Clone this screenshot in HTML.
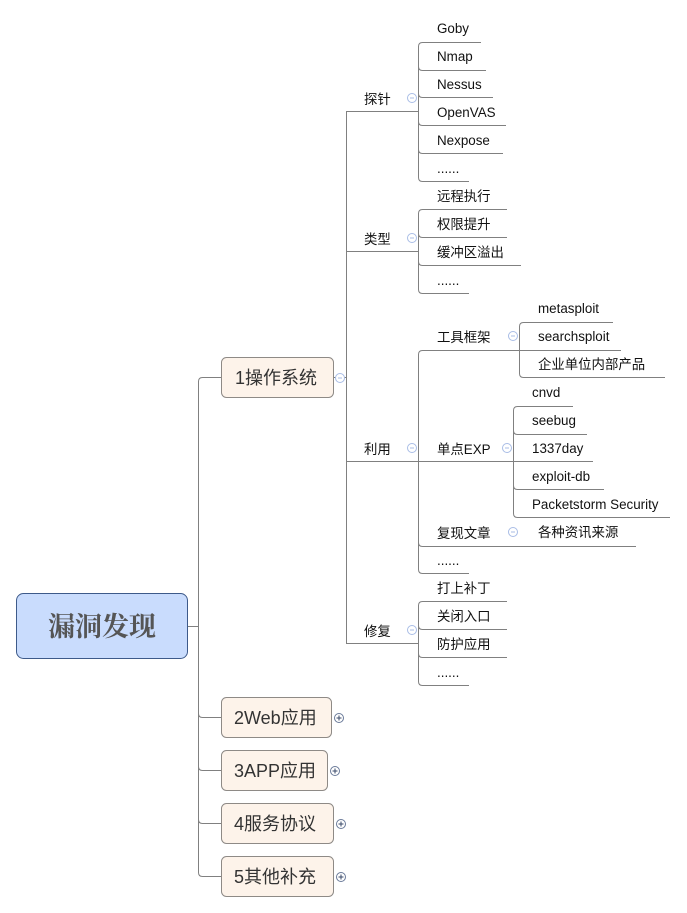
<!DOCTYPE html>
<html><head><meta charset="utf-8"><style>
html,body{margin:0;padding:0;background:#fff;}
svg{display:block;}
text{font-family:"Liberation Sans","Noto Sans CJK SC",sans-serif;font-size:13.4px;fill:#111;}
.t{font-size:18px;fill:#333;}
.r{font-family:"Liberation Serif","Noto Serif CJK SC",serif;font-size:27px;font-weight:bold;fill:#555;}
.l{fill:none;stroke:#808080;stroke-width:1;}
.c{fill:#fff;stroke:#a9bde6;stroke-width:1;}
.p{fill:#fff;stroke:#6a7a99;stroke-width:1;}
</style></head><body>
<svg width="687" height="913" viewBox="0 0 687 913" xmlns="http://www.w3.org/2000/svg">
<g class="l">
<path d="M187.5 626.5H198.5"/>
<path d="M221 377.5H202.5Q198.5 377.5 198.5 381.5V872.5Q198.5 876.5 202.5 876.5H221"/>
<path d="M198.5 713.5Q198.5 717.5 202.5 717.5H221"/>
<path d="M198.5 766.5Q198.5 770.5 202.5 770.5H221"/>
<path d="M198.5 819.5Q198.5 823.5 202.5 823.5H221"/>
<path d="M333 377.5H346.5"/>
<path d="M418.5 111.5H346.5V643.5H418.5"/>
<path d="M346.5 251.5H418.5"/>
<path d="M346.5 461.5H418.5"/>
<path d="M481 42.5H422.5Q418.5 42.5 418.5 46.5V177.5Q418.5 181.5 422.5 181.5H469"/>
<path d="M418.5 66.5Q418.5 70.5 422.5 70.5H486"/>
<path d="M418.5 93.5Q418.5 97.5 422.5 97.5H493"/>
<path d="M418.5 121.5Q418.5 125.5 422.5 125.5H506"/>
<path d="M418.5 149.5Q418.5 153.5 422.5 153.5H503"/>
<path d="M507 209.5H422.5Q418.5 209.5 418.5 213.5V289.5Q418.5 293.5 422.5 293.5H469"/>
<path d="M418.5 233.5Q418.5 237.5 422.5 237.5H507"/>
<path d="M418.5 261.5Q418.5 265.5 422.5 265.5H521"/>
<path d="M519.5 350.5H422.5Q418.5 350.5 418.5 354.5V569.5Q418.5 573.5 422.5 573.5H469"/>
<path d="M418.5 461.5H513.5"/>
<path d="M418.5 542.5Q418.5 546.5 422.5 546.5H636"/>
<path d="M613 322.5H523.5Q519.5 322.5 519.5 326.5V373.5Q519.5 377.5 523.5 377.5H665"/>
<path d="M519.5 350.5H621"/>
<path d="M573 406.5H517.5Q513.5 406.5 513.5 410.5V513.5Q513.5 517.5 517.5 517.5H670"/>
<path d="M513.5 430.5Q513.5 434.5 517.5 434.5H587"/>
<path d="M513.5 461.5H593"/>
<path d="M513.5 485.5Q513.5 489.5 517.5 489.5H604"/>
<path d="M507 601.5H422.5Q418.5 601.5 418.5 605.5V681.5Q418.5 685.5 422.5 685.5H469"/>
<path d="M418.5 625.5Q418.5 629.5 422.5 629.5H507"/>
<path d="M418.5 653.5Q418.5 657.5 422.5 657.5H507"/>
</g>
<rect x="16.5" y="593.5" width="171" height="65" rx="7" fill="#c9dcfd" stroke="#3d5a8a"/>
<text class="r" x="102" y="636" text-anchor="middle">漏洞发现</text>
<rect x="221.5" y="357.5" width="112" height="40" rx="5" fill="#fdf3ea" stroke="#8e8a86"/>
<text class="t" x="235" y="384">1操作系统</text>
<rect x="221.5" y="697.5" width="110" height="40" rx="5" fill="#fdf3ea" stroke="#8e8a86"/>
<text class="t" x="234" y="724">2Web应用</text>
<rect x="221.5" y="750.5" width="106" height="40" rx="5" fill="#fdf3ea" stroke="#8e8a86"/>
<text class="t" x="234" y="777">3APP应用</text>
<rect x="221.5" y="803.5" width="112" height="40" rx="5" fill="#fdf3ea" stroke="#8e8a86"/>
<text class="t" x="234" y="830">4服务协议</text>
<rect x="221.5" y="856.5" width="112" height="40" rx="5" fill="#fdf3ea" stroke="#8e8a86"/>
<text class="t" x="234" y="883">5其他补充</text>
<circle class="c" cx="340" cy="378" r="4.5"/>
<circle class="c" cx="412" cy="98" r="4.5"/>
<circle class="c" cx="412" cy="238" r="4.5"/>
<circle class="c" cx="412" cy="448" r="4.5"/>
<circle class="c" cx="412" cy="630" r="4.5"/>
<circle class="c" cx="513" cy="336" r="4.5"/>
<circle class="c" cx="507" cy="448" r="4.5"/>
<circle class="c" cx="513" cy="532" r="4.5"/>
<g stroke="#a9bde6" stroke-width="1">
<path d="M338 378h4M410 98h4M410 238h4M410 448h4M410 630h4M511 336h4M505 448h4M511 532h4"/>
</g>
<g>
<circle class="p" cx="339" cy="718" r="4.5"/><circle class="p" cx="335" cy="771" r="4.5"/>
<circle class="p" cx="341" cy="824" r="4.5"/><circle class="p" cx="341" cy="877" r="4.5"/>
<path stroke="#3a4a6a" fill="none" d="M336.5 718h5M339 715.5v5M332.5 771h5M335 768.5v5M338.5 824h5M341 821.5v5M338.5 877h5M341 874.5v5"/>
</g>
<text x="364" y="104">探针</text>
<text x="364" y="244">类型</text>
<text x="364" y="454">利用</text>
<text x="364" y="636">修复</text>
<text x="437" y="33">Goby</text>
<text x="437" y="61">Nmap</text>
<text x="437" y="89">Nessus</text>
<text x="437" y="117">OpenVAS</text>
<text x="437" y="145">Nexpose</text>
<text x="437" y="173">......</text>
<text x="437" y="201">远程执行</text>
<text x="437" y="229">权限提升</text>
<text x="437" y="257">缓冲区溢出</text>
<text x="437" y="285">......</text>
<text x="437" y="342">工具框架</text>
<text x="437" y="454">单点EXP</text>
<text x="437" y="538">复现文章</text>
<text x="437" y="565">......</text>
<text x="538" y="313">metasploit</text>
<text x="538" y="341">searchsploit</text>
<text x="538" y="369">企业单位内部产品</text>
<text x="532" y="397">cnvd</text>
<text x="532" y="425">seebug</text>
<text x="532" y="453">1337day</text>
<text x="532" y="481">exploit-db</text>
<text x="532" y="509">Packetstorm Security</text>
<text x="538" y="537">各种资讯来源</text>
<text x="437" y="593">打上补丁</text>
<text x="437" y="621">关闭入口</text>
<text x="437" y="649">防护应用</text>
<text x="437" y="677">......</text>
</svg>
</body></html>
